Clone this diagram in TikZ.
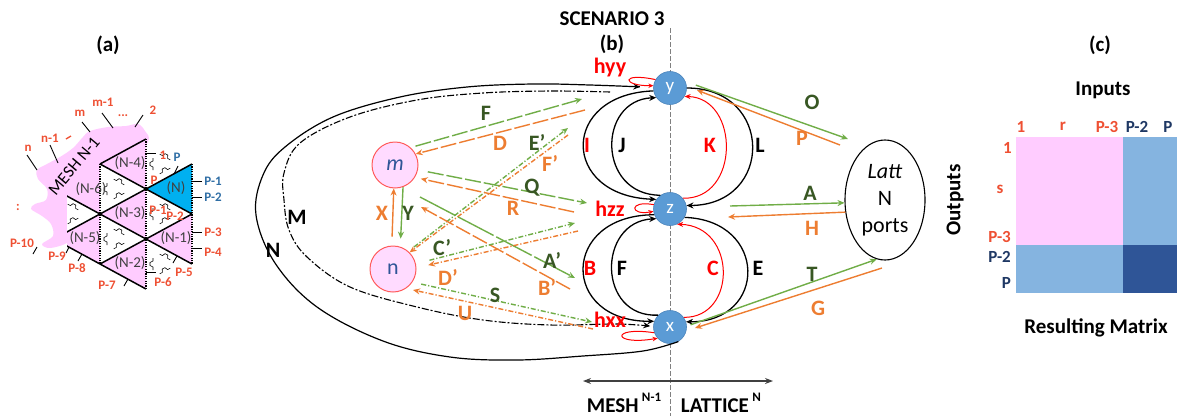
\documentclass[tikz,border=0pt]{standalone}
\usepackage{fontspec}
\setmainfont{Carlito}
\usetikzlibrary{arrows.meta,shapes.geometric}

\definecolor{lgreen}{HTML}{70AD47}
\definecolor{dgreen}{HTML}{385723}
\definecolor{lorange}{HTML}{ED7D31}
\definecolor{hubblue}{HTML}{5B9BD5}
\definecolor{hubrim}{HTML}{4A84BC}
\definecolor{cellpink}{HTML}{FFDBFF}
\definecolor{rimred}{HTML}{FF5B5B}
\definecolor{meshpink}{HTML}{FFCCFF}
\definecolor{portred}{HTML}{EE5033}
\definecolor{portblue}{HTML}{2F6EA5}
\definecolor{navy}{HTML}{1F3864}
\definecolor{midblue}{HTML}{85B4E0}
\definecolor{deepblue}{HTML}{2F5597}
\definecolor{cyanN}{HTML}{00B0F0}
\definecolor{inkgray}{HTML}{404040}
\definecolor{lettblue}{HTML}{2F5597}

\newcommand\fsz[1]{\fontsize{#1}{#1}\selectfont}
% small coupler bump used inside the white lattice triangles
\newcommand\cpl[3]{\begin{scope}[shift={(#1,#2)},rotate=#3]
  \draw[wig] (-6,0)--(-3,0)--(-1.5,-3)--(1.5,-3)--(3,0)--(6,0);\end{scope}}

\tikzset{
  lbl/.style={inner sep=0pt, font=\fsz{22}\bfseries},
  gt/.style={lbl, text=dgreen},
  ot/.style={lbl, text=lorange},
  rt/.style={lbl, text=red},
  kt/.style={lbl, text=black},
  head/.style={inner sep=0pt, font=\fsz{21}\bfseries},
  tip/.style={-{Stealth[length=7pt,width=6pt]}},
  gl/.style={draw=lgreen, line width=1.4pt, tip},
  ol/.style={draw=lorange, line width=1.4pt, tip},
  longdash/.style={dash pattern=on 16pt off 3pt},
  dotdash/.style={dash pattern=on 5pt off 2pt on 1.2pt off 2pt},
  loopk/.style={draw=black, line width=1.3pt, tip},
  looprk/.style={draw=red, line width=1pt, -{Stealth[length=6pt,width=5pt]}},
  selfloop/.style={draw=red, line width=1pt, -{Stealth[length=5pt,width=4.5pt]}},
  hub/.style={circle, fill=hubblue, draw=hubrim, line width=0.6pt, minimum size=33pt,
    inner sep=0pt, text=white, font=\fsz{19}},
  cell/.style={circle, fill=cellpink, draw=rimred, line width=1pt, minimum size=46pt,
    inner sep=0pt, text=lettblue, font=\fsz{22}},
  lat/.style={draw=black, line width=1.5pt},
  latv/.style={draw=black, line width=1.8pt, dash pattern=on 1.2pt off 1.2pt},
  stub/.style={draw=black, line width=0.9pt},
  wig/.style={draw=black, line width=0.6pt},
  pr/.style={inner sep=0pt, font=\fsz{13}\bfseries, text=portred},
  pb/.style={inner sep=0pt, font=\fsz{13}\bfseries, text=portblue},
  tri/.style={inner sep=0pt, font=\fsz{15}, text=inkgray},
  mr/.style={inner sep=0pt, font=\fsz{17}\bfseries, text=portred},
  mb/.style={inner sep=0pt, font=\fsz{17}\bfseries, text=navy},
}

\begin{document}
\begin{tikzpicture}[x=1pt,y=-1pt]
\useasboundingbox (0,0) rectangle (1182,418);

%================ (a) mesh of triangles ================
\node[head] (ta) at (108,45) {(a)};

% pink cloud of the rest of the mesh
\fill[meshpink] plot[smooth cycle, tension=0.55] coordinates {(90,131) (108,127) (126,126)
  (138,124) (145,131) (148,142) (125,170) (102,190) (90,205) (75,225) (68,242) (50,248)
  (42,244) (53,236) (51,224) (42,216) (31,209) (35,204) (46,200) (47,189) (38,179)
  (37,170) (47,164) (60,157) (73,148) (83,137)};

\begin{scope}
\clip (67,100) rectangle (240,300);
% cells
\fill[meshpink] (146,139)--(146,189)--(100,164)--cycle;
\fill[meshpink] (146,189)--(146,239)--(100,214)--cycle;
\fill[meshpink] (146,239)--(146,289)--(100,264)--cycle;
\fill[meshpink] (100,164)--(100,214)--(54,189)--cycle;
\fill[meshpink] (100,214)--(100,264)--(54,239)--cycle;
\fill[meshpink] (192,214)--(192,264)--(146,239)--cycle;
\fill[cyanN] (192,164)--(192,214)--(146,189)--cycle;
\fill[white] (100,164)--(100,214)--(146,189)--cycle;
\fill[white] (100,214)--(100,264)--(146,239)--cycle;
\fill[white] (146,189)--(146,239)--(192,214)--cycle;
\fill[white] (54,189)--(54,239)--(100,214)--cycle;
% couplers
\foreach \xl/\yt in {100/164,100/214,146/189,54/189,146/139,146/239}{
  \cpl{\xl+7}{\yt+25}{90}
  \cpl{\xl+19}{\yt+18}{-28}
  \cpl{\xl+19}{\yt+32}{28}
}
% edges
\draw[lat] (100,164)--(192,214);
\draw[lat] (54,189)--(192,264);
\draw[lat] (54,239)--(146,289);
\draw[lat] (100,164)--(146,139);
\draw[lat] (54,239)--(192,164);
\draw[lat] (100,264)--(192,214);
\draw[latv] (100,164)--(100,264);
\draw[latv] (146,139)--(146,289);
\draw[latv] (192,164)--(192,264);
\end{scope}

% port stubs
\draw[stub] (27,155)--(37,170);
\draw[stub] (50,145)--(58,163);
\draw[stub] (82,122)--(90,132);
\draw[stub] (102,113)--(113,128);
\draw[stub] (143,115)--(135,127);
\draw[stub] (146,153)--(156,153);
\draw[stub] (174,174)--(178,166);
\draw[stub] (192,181)--(202,181);
\draw[stub] (192,197)--(202,197);
\draw[stub] (192,232)--(202,232);
\draw[stub] (192,248)--(202,248);
\draw[stub] (177,256)--(173,263);
\draw[stub] (146,272)--(156,272);
\draw[stub] (128,279)--(124,286);
\draw[stub] (82,254)--(78,261);
\draw[stub] (69,247)--(66,253);
\draw[stub] (37,247)--(33,254);
\draw[portred, line width=1.3pt] (66,139)--(71,136);

% cell names
\node[tri] (cN) at (176,188) {(N)};
\node[tri] (cN1) at (176,238) {(N-1)};
\node[tri] (cN2) at (130,263) {(N-2)};
\node[tri] (cN3) at (130,213) {(N-3)};
\node[tri] (cN4) at (130,163) {(N-4)};
\node[tri] (cN5) at (85,238) {(N-5)};
\node[tri] (cN6) at (91,189) {(N-6)};
\node[inner sep=0pt, font=\fsz{17}, rotate=50] (mesh) at (74,166) {MESH N-1};

% port numbers
\node[pr] (p1) at (28,148) {n};
\node[pr] (p2) at (50,138) {n-1};
\node[pr] (p3) at (80,113) {m};
\node[pr] (p4) at (103,102) {m-1};
\node[pr] (p5) at (123,116) {...};
\node[pr] (p6) at (153,110) {2};
\node[pr] (p7) at (163,155) {1};
\node[pb] (p8) at (177,157) {P};
\node[pb] (p9) at (213,181) {P-1};
\node[pb] (p10) at (213,197) {P-2};
\node[pr] (p11) at (154,180) {P};
\node[pr] (p12) at (158,210) {P-1};
\node[pr] (p13) at (175,216) {P-2};
\node[pr] (p14) at (213,232) {P-3};
\node[pr] (p15) at (213,252) {P-4};
\node[pr] (p16) at (184,272) {P-5};
\node[pr] (p17) at (163,282) {P-6};
\node[pr] (p18) at (107,285) {P-7};
\node[pr] (p19) at (77,268) {P-8};
\node[pr] (p20) at (57,256) {P-9};
\node[pr] (p21) at (22,243) {P-10};
\node[pr] (p22) at (18,207) {:};

%================ (b) scenario 3 ================
\node[head] (tsc) at (612,19) {SCENARIO 3};
\node[head] (tb) at (612,44) {(b)};

\coordinate (vtop) at (670,28);
\coordinate (vbot) at (670,416);
\draw[gray, line width=0.8pt, dash pattern=on 5pt off 2pt] (vtop) -- (vbot);

\node[hub] (y) at (670,88) {y};
\node[hub] (z) at (670,209) {z};
\node[hub] (x) at (670,327) {x};
\node[cell] (m) at (395,165) {\textit{m}};
\node[cell] (n) at (393,269) {n};
\node[draw, ellipse, line width=1.1pt, minimum width=80pt, minimum height=120pt,
  inner sep=0pt, align=center, font=\fontsize{22}{27}\selectfont] (latt) at (885,200)
  {\textit{Latt}\\N\\ports};

% outer loops round the mesh
\draw[loopk, line width=1.2pt, shorten >=13pt] plot[smooth, tension=0.6] coordinates {(x.-60)
  (643,351) (583,356) (517,360) (450,357) (383,341) (317,307) (275,263) (256,215)
  (263,175) (285,147) (333,117) (400,97) (467,87) (533,84) (590,85) (y.178)};
\coordinate (Mfree) at (610,92);
\draw[loopk, line width=1.1pt, dash pattern=on 7pt off 2pt on 2pt off 2pt, shorten >=3pt]
  plot[smooth, tension=0.6] coordinates {(Mfree) (550,91) (483,93) (417,100) (350,117)
  (300,143) (284,173) (284,200) (289,230) (307,257) (350,287) (417,307) (483,320)
  (550,325) (617,324) (x.178)};

% loops between the hubs
\draw[loopk] (y.190) .. controls (560,94) and (560,196) .. (z.145);
\draw[loopk] (z.125) .. controls (597,195) and (597,100) .. (y.215);
\draw[looprk] (z.40) .. controls (740,200) and (740,98) .. (y.-30);
\draw[loopk] (y.0) .. controls (774,88) and (774,205) .. (z.12);
\draw[loopk] (z.200) .. controls (560,215) and (560,322) .. (x.160);
\draw[loopk] (x.135) .. controls (597,318) and (597,222) .. (z.215);
\draw[looprk] (x.35) .. controls (737,318) and (737,226) .. (z.-65);
\draw[loopk] (z.-30) .. controls (768,220) and (768,322) .. (x.18);

% self loops
\draw[selfloop] (y.150) .. controls (620,72) and (622,86) .. (y.172);
\draw[selfloop] (z.165) .. controls (628,200) and (630,216) .. (z.188);
\draw[selfloop] (x.200) .. controls (610,326) and (612,346) .. (x.222);

% mesh-side links
\coordinate (Fe) at (582,99);
\draw[gl, longdash, shorten <=5pt] (m.48) -- (Fe);
\coordinate (Ds) at (585,110);
\draw[ol, longdash] (Ds) -- (m.28);
\coordinate (Epe) at (568,128);
\draw[gl, dotdash, shorten <=7pt] (n.49) -- (Epe);
\coordinate (Fps) at (568,135);
\draw[ol, dotdash] (Fps) -- (n.45);
\coordinate (Qe) at (587,203);
\draw[gl, longdash, shorten <=10pt] (m.-12) -- (Qe);
\coordinate (Rs) at (574,212);
\draw[ol, longdash, shorten >=6pt] (Rs) -- (m.-32);
\draw[ol, shorten <=9pt] (n.93) -- (m.-93);
\draw[gl, shorten >=8pt] (m.-70) -- (n.72);
\coordinate (Aps) at (420,197);
\coordinate (Ape) at (575,278);
\draw[gl, dash pattern=on 40pt off 3pt] (Aps) -- (Ape);
\coordinate (Bps) at (570,289);
\coordinate (Bpe) at (421,207);
\draw[ol, longdash] (Bps) -- (Bpe);
\coordinate (Cpe) at (575,223);
\draw[gl, dotdash, shorten <=14pt] (n.13) -- (Cpe);
\coordinate (Dps) at (578,231);
\draw[ol, dotdash, shorten >=12pt] (Dps) -- (n.3);
\coordinate (Se) at (592,322);
\draw[gl, dotdash, shorten <=9pt] (n.-34) -- (Se);
\coordinate (Us) at (593,329);
\draw[ol, dotdash, shorten >=7pt] (Us) -- (n.-56);

% lattice-side links
\coordinate (Oe) at (848,139);
\draw[gl, shorten <=11pt] (y.23) -- (Oe);
\coordinate (Ps) at (840,145);
\draw[ol, shorten >=11pt] (Ps) -- (y.6);
\coordinate (As) at (730,206);
\draw[gl] (As) -- (latt.184);
\coordinate (He) at (728,217);
\draw[ol] (latt.197) -- (He);
\draw[gl, shorten <=4pt] (x.3) -- (latt.262);
\coordinate (Gs) at (882,268);
\draw[ol, shorten >=9pt] (Gs) -- (x.-13);

% link names
\node[rt] (lhyy) at (610,68) {hyy};
\node[rt] (lhzz) at (610,209) {hzz};
\node[rt] (lhxx) at (610,320) {hxx};
\node[gt] (lF) at (486,113) {F};
\node[ot] (lD) at (500,143) {D};
\node[gt] (lEp) at (537,142) {E’};
\node[ot] (lFp) at (550,163) {F’};
\node[gt] (lQ) at (532,188) {Q};
\node[ot] (lR) at (513,208) {R};
\node[ot] (lX) at (382,213) {X};
\node[gt] (lY) at (408,213) {Y};
\node[gt] (lAp) at (552,260) {A’};
\node[ot] (lBp) at (547,287) {B’};
\node[gt] (lCp) at (442,248) {C’};
\node[ot] (lDp) at (448,277) {D’};
\node[gt] (lS) at (495,295) {S};
\node[ot] (lU) at (465,313) {U};
\node[rt] (lI) at (587,145) {I};
\node[kt] (lJ) at (622,145) {J};
\node[rt] (lK) at (710,145) {K};
\node[kt] (lL) at (760,145) {L};
\node[rt] (lB) at (590,268) {B};
\node[kt] (lF2) at (622,268) {F};
\node[rt] (lC) at (713,268) {C};
\node[kt] (lE) at (758,268) {E};
\node[kt] (lM) at (297,217) {M};
\node[kt] (lN) at (273,250) {N};
\node[gt] (lO) at (812,102) {O};
\node[ot] (lP) at (802,138) {P};
\node[gt] (lA) at (810,193) {A};
\node[ot] (lH) at (812,228) {H};
\node[gt] (lT) at (812,274) {T};
\node[ot] (lG) at (818,308) {G};

% mesh / lattice extent
\coordinate (ml) at (583,381);
\coordinate (lr) at (773,381);
\draw[{Stealth[length=8pt,width=6pt]}-{Stealth[length=8pt,width=6pt]}, inkgray,
  line width=1.2pt] (ml) -- (lr);
\node[head, anchor=base] (tmesh) at (624,412) {MESH\,\raisebox{0.5em}{\fsz{13}N-1}};
\node[head, anchor=base] (tlat) at (721,412) {LATTICE\,\raisebox{0.5em}{\fsz{13}N}};

%================ (c) resulting matrix ================
\node[head] (tc) at (1100,45) {(c)};
\node[head] (tin) at (1103,90) {Inputs};
\node[head, rotate=90] (tout) at (955,200) {Outputs};
\node[head] (tres) at (1096,328) {Resulting Matrix};

\fill[meshpink] (1016,137) rectangle (1123,245);
\fill[midblue] (1123,137) rectangle (1177,245);
\fill[midblue] (1016,245) rectangle (1123,293);
\fill[deepblue] (1123,245) rectangle (1177,293);

\node[mr] (c1) at (1021,127) {1};
\node[mr] (c2) at (1063,126) {r};
\node[mr] (c3) at (1107,127) {P-3};
\node[mb] (c4) at (1137,127) {P-2};
\node[mb] (c5) at (1168,127) {P};
\node[mr, anchor=east] (r1) at (1012,148) {1};
\node[mr] (r2) at (1000,189) {s};
\node[mr, anchor=east] (r3) at (1011,237) {P-3};
\node[mb, anchor=east] (r4) at (1011,257) {P-2};
\node[mb, anchor=east] (r5) at (1011,283) {P};
\end{tikzpicture}
\end{document}
